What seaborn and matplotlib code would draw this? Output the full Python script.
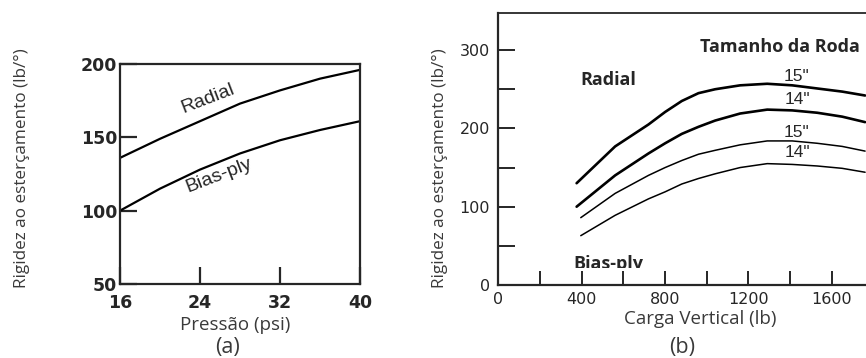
import pandas as pd
import matplotlib
matplotlib.use("Agg")
import matplotlib.pyplot as plt
import seaborn as sns
from matplotlib.transforms import Bbox, TransformedBbox

# (a) steering stiffness vs inflation pressure
pressure = [16, 20, 24, 28, 32, 36, 40]
radial_a = [136, 149, 161, 173, 182, 190, 196]
bias_a = [100, 115, 128, 139, 148, 155, 161]

# (b) steering stiffness vs vertical load
radial_load = [375, 560, 720, 800, 880, 960, 1040, 1160, 1290, 1410, 1530, 1650, 1760]
radial_15 = [130, 177, 205, 221, 235, 245, 250, 255, 257, 255, 251, 247, 242]
radial_14 = [100, 140, 168, 181, 193, 202, 210, 219, 224, 223, 220, 215, 208]
bias_load = [395, 560, 720, 800, 880, 960, 1040, 1160, 1290, 1410, 1530, 1650, 1760]
bias_15 = [86, 117, 140, 150, 159, 167, 172, 179, 184, 184, 181, 177, 171]
bias_14 = [63, 89, 110, 119, 129, 136, 142, 150, 155, 154, 152, 149, 144]

load_ticks = [0, 400, 800, 1200, 1600]
load_minor = [200, 600, 1000, 1400, 1800]

sns.set_style("ticks")
plt.rcParams['font.family'] = ['DejaVu Sans']

W, H = 866, 358
fig = plt.figure(figsize=(W / 100, H / 100), dpi=100)


def px_axes(x0, y0, x1, y1):
    # pixel box (top-left origin) -> figure fraction
    return fig.add_axes([x0 / W, 1 - y1 / H, (x1 - x0) / W, (y1 - y0) / H])


label_font = dict(family=['Open Sans', 'DejaVu Sans'], color='#3a3a3a')

# ---------------- panel (a) ----------------
ax1 = px_axes(120, 64, 360, 284)
df_a = pd.DataFrame({'pressao': pressure * 2,
                     'rigidez': radial_a + bias_a,
                     'tipo': ['Radial'] * len(pressure) + ['Bias-ply'] * len(pressure)})
sns.lineplot(data=df_a, x='pressao', y='rigidez', units='tipo', estimator=None,
             color='black', lw=1.6, ax=ax1)
ax1.set_xlim(16, 40)
ax1.set_ylim(50, 200)
ax1.set_xticks([16, 24, 32, 40])
ax1.set_yticks([50, 100, 150, 200])
ax1.tick_params(direction='in', length=12, width=1.6, labelsize=12.5)
ax1.tick_params(axis='y', pad=2)
ax1.tick_params(axis='x', pad=7)
for lab in ax1.get_xticklabels() + ax1.get_yticklabels():
    lab.set_fontweight('bold')
for s in ax1.spines.values():
    s.set_linewidth(1.6)
ax1.set_xlabel('')
ax1.set_ylabel('')
ax1.text(24.8, 176, 'Radial', rotation=21, ha='center', va='center', fontsize=14,
         family='Liberation Sans')
ax1.text(25.9, 124, 'Bias-ply', rotation=21, ha='center', va='center', fontsize=14,
         family='Liberation Sans')

fig.text(22 / W, 1 - 168 / H, 'Rigidez ao esterçamento (lb/°)', rotation=90,
         ha='center', va='center', fontsize=12.3, **label_font)
fig.text(235 / W, 1 - 325 / H, 'Pressão (psi)', ha='center', va='center',
         fontsize=13.5, **label_font)
fig.text(228 / W, 1 - 347 / H, '(a)', ha='center', va='center', fontsize=15.5,
         **label_font)

# ---------------- panel (b) ----------------
# right side of the plot runs past the picture edge, as in the source scan
ax2 = px_axes(498.5, 13.3, 498.5 + 2000 * 0.2083, 285)
series = [(radial_load, radial_15, 1.9), (radial_load, radial_14, 1.9),
          (bias_load, bias_15, 1.1), (bias_load, bias_14, 1.1)]
for xs, ys, lw in series:
    sns.lineplot(x=xs, y=ys, color='black', lw=lw, ax=ax2)
ax2.set_xlim(0, 2000)
ax2.set_ylim(0, 347)
ax2.set_xticks(load_ticks)
ax2.set_xticks(load_minor, minor=True)
ax2.set_yticks([0, 100, 200, 300])
ax2.set_yticks([50, 150, 250], minor=True)
ax2.tick_params(which='both', direction='in', width=1.4)
ax2.tick_params(axis='y', which='both', length=12)
ax2.tick_params(axis='x', which='both', length=10)
ax2.tick_params(axis='y', labelsize=11.5, pad=6)
ax2.tick_params(axis='x', labelsize=11.5, pad=5)
for s in ax2.spines.values():
    s.set_linewidth(1.6)
ax2.spines['top'].set_linewidth(1.3)

size_font = dict(fontsize=12.5, ha='center', va='center', family='Liberation Sans')
ax2.text(1433, 266, '15"', **size_font)
ax2.text(1433, 237, '14"', **size_font)
ax2.text(1433, 195, '15"', **size_font)
ax2.text(1433, 169, '14"', **size_font)

bold_font = dict(family=['Open Sans', 'DejaVu Sans'], fontweight='bold', fontsize=13)
fig.text(780 / W, 1 - 47 / H, 'Tamanho da Roda', ha='center', va='center', **bold_font)
fig.text(608 / W, 1 - 80 / H, 'Radial', ha='center', va='center', **bold_font)
bias_txt = fig.text(608 / W, 1 - 255 / H, 'Bias-ply', ha='center', va='top', **bold_font)
clip = TransformedBbox(Bbox([[0, 1 - 268 / H], [1, 1]]), fig.transFigure)
bias_txt.set_clip_box(clip)
bias_txt.set_clip_on(True)

fig.text(440 / W, 1 - 168 / H, 'Rigidez ao esterçamento (lb/°)', rotation=90,
         ha='center', va='center', fontsize=12.3, **label_font)
fig.text(700 / W, 1 - 319 / H, 'Carga Vertical (lb)', ha='center', va='center',
         fontsize=13.5, **label_font)
fig.text(682 / W, 1 - 347 / H, '(b)', ha='center', va='center', fontsize=15.5,
         **label_font)

fig.savefig('out.png', dpi=100)
